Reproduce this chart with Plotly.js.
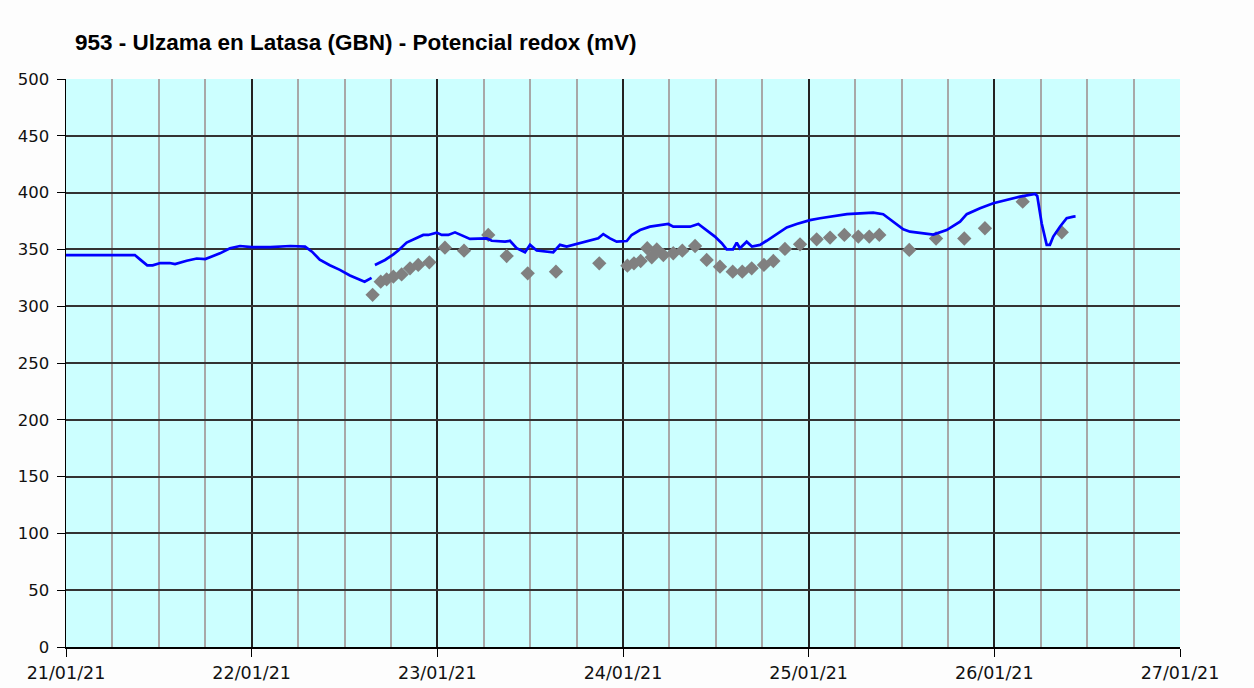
<!DOCTYPE html>
<html>
<head>
<meta charset="utf-8">
<script src="https://cdn.plot.ly/plotly-3.0.1.min.js"></script>
<style>html,body{margin:0;padding:0;background:#fdfdfd;}#chart{width:1254px;height:688px;}</style>
</head>
<body>
<div id="chart"></div>
<script>
// Continuous redox sensor (blue line); null = gap in the record
const sensorTimes = [
 "2021-01-21 00:00","2021-01-21 08:54","2021-01-21 09:36","2021-01-21 10:30","2021-01-21 11:12","2021-01-21 12:12",
 "2021-01-21 13:24","2021-01-21 14:06","2021-01-21 15:36","2021-01-21 16:54","2021-01-21 18:00","2021-01-21 19:00",
 "2021-01-21 19:54","2021-01-21 21:12","2021-01-21 22:30","2021-01-22 00:00","2021-01-22 02:24","2021-01-22 05:00",
 "2021-01-22 06:54","2021-01-22 07:48","2021-01-22 08:48","2021-01-22 10:06","2021-01-22 11:24","2021-01-22 12:42",
 "2021-01-22 13:24","2021-01-22 14:36","2021-01-22 15:30","2021-01-22 15:45",
 "2021-01-22 15:56","2021-01-22 17:14","2021-01-22 18:19","2021-01-22 18:57","2021-01-22 20:02","2021-01-22 21:07",
 "2021-01-22 22:11","2021-01-22 22:50","2021-01-22 23:55","2021-01-23 00:34","2021-01-23 01:25","2021-01-23 02:17",
 "2021-01-23 03:21","2021-01-23 04:13","2021-01-23 06:23","2021-01-23 07:02","2021-01-23 08:45","2021-01-23 09:23",
 "2021-01-23 10:15","2021-01-23 11:20","2021-01-23 11:59","2021-01-23 12:51","2021-01-23 14:59","2021-01-23 15:51",
 "2021-01-23 16:43","2021-01-23 18:26","2021-01-23 20:10","2021-01-23 20:48","2021-01-23 21:27","2021-01-23 22:19",
 "2021-01-23 23:11","2021-01-24 00:29","2021-01-24 01:07","2021-01-24 02:12","2021-01-24 03:29","2021-01-24 04:47",
 "2021-01-24 05:51","2021-01-24 06:30","2021-01-24 08:40","2021-01-24 09:44","2021-01-24 10:49","2021-01-24 11:53",
 "2021-01-24 12:46","2021-01-24 13:24","2021-01-24 14:13","2021-01-24 14:42","2021-01-24 15:07","2021-01-24 15:59",
 "2021-01-24 16:40","2021-01-24 17:43","2021-01-24 18:34","2021-01-24 19:52","2021-01-24 21:10","2021-01-24 22:27",
 "2021-01-25 00:10","2021-01-25 01:28","2021-01-25 04:57","2021-01-25 06:38","2021-01-25 08:21","2021-01-25 09:38",
 "2021-01-25 10:56","2021-01-25 12:14","2021-01-25 13:06","2021-01-25 14:49","2021-01-25 16:07","2021-01-25 17:50",
 "2021-01-25 19:34","2021-01-25 20:26","2021-01-25 22:09","2021-01-25 23:52","2021-01-26 01:36","2021-01-26 03:19",
 "2021-01-26 05:16","2021-01-26 05:33","2021-01-26 06:07","2021-01-26 06:46","2021-01-26 07:11","2021-01-26 07:37",
 "2021-01-26 08:29","2021-01-26 09:21","2021-01-26 10:13","2021-01-26 10:30"
];
const sensorValues = [
 345,345,341,336,336,338,
 338,337,340,342,341.5,344,
 346.5,351,353,352,352,353,
 352.5,348,341,336,332,327,
 325,321.5,325,null,
 336.3,340.7,345.6,349,356,359.7,
 362.7,362.7,364.8,362.7,362.7,365,
 361.8,359.2,359.7,357.6,356.8,357.6,
 351,347.5,354,349,347.5,354,
 352.4,355.4,358.3,359.7,363.5,359.7,
 356.8,357.4,362.7,367,370,371.5,
 372.4,370,370,372.4,367,361.3,
 355.4,350.1,350,356,351,356.8,
 352.5,354,357.6,363.5,369.4,372.4,
 375.8,377.4,381,381.7,382.3,381,
 374.4,367.7,365.6,364,363.1,367,
 374.4,381,386.3,390.6,393.5,396.4,
 398.8,397,373,354,354,361.3,
 370,377.4,378.8,379
];
// Manual samples (grey diamonds)
const sampleTimes = [
 "2021-01-22 15:38","2021-01-22 16:41","2021-01-22 17:27","2021-01-22 18:19","2021-01-22 19:23","2021-01-22 20:28",
 "2021-01-22 21:32","2021-01-22 22:58","2021-01-23 00:59","2021-01-23 03:27","2021-01-23 06:35","2021-01-23 08:58",
 "2021-01-23 11:41","2021-01-23 15:20","2021-01-23 20:56","2021-01-24 00:34","2021-01-24 01:25","2021-01-24 02:17",
 "2021-01-24 03:08","2021-01-24 03:43","2021-01-24 04:22","2021-01-24 05:13","2021-01-24 06:30","2021-01-24 07:40",
 "2021-01-24 09:19","2021-01-24 10:49","2021-01-24 12:32","2021-01-24 14:11","2021-01-24 15:25","2021-01-24 16:38",
 "2021-01-24 18:13","2021-01-24 19:26","2021-01-24 20:56","2021-01-24 22:53","2021-01-25 01:02","2021-01-25 02:46",
 "2021-01-25 04:37","2021-01-25 06:25","2021-01-25 07:50","2021-01-25 09:08","2021-01-25 13:00","2021-01-25 16:28",
 "2021-01-25 20:07","2021-01-25 22:47","2021-01-26 03:40","2021-01-26 08:43"
];
const sampleValues = [
 310,321.6,323.7,326,328,333.3,
 336.3,338.6,351.5,348.9,362.7,344.2,
 328.9,330.4,337.7,335.7,337.7,339.8,
 351,343,350,345,346.6,348.9,
 353,340.7,334.8,330.4,330.4,333.3,
 336.3,339.8,350.4,354.5,358.9,360.4,
 362.7,361.3,361.3,362.7,349.5,359.6,
 359.6,368.6,392,365
];
const chartTitle = "953 - Ulzama en Latasa (GBN) - Potencial redox (mV)";

const traces = [
 {x: sampleTimes, y: sampleValues, type: "scatter", mode: "markers",
  marker: {symbol: "diamond", size: 11, color: "#808080"}, hoverinfo: "x+y"},
 {x: sensorTimes, y: sensorValues, type: "scatter", mode: "lines",
  line: {color: "#0000ff", width: 2.7}, connectgaps: false, hoverinfo: "x+y"}
];
const layout = {
 width: 1254, height: 688,
 margin: {l: 66, r: 74, t: 79, b: 41},
 paper_bgcolor: "#fdfdfd", plot_bgcolor: "#ccffff",
 showlegend: false,
 title: {text: "<b>" + chartTitle + "</b>", x: 75/1254, xanchor: "left", y: 1 - 42/688, yanchor: "middle",
  font: {family: "Liberation Sans, Arial, sans-serif", size: 22.5, color: "#000"}},
 xaxis: {type: "date", range: ["2021-01-21 00:00", "2021-01-27 00:00"],
  tickmode: "linear", tick0: "2021-01-21", dtick: 86400000, tickformat: "%d/%m/%y",
  ticks: "outside", ticklen: 8, tickcolor: "#000", ticklabelstandoff: 1,
  showgrid: true, gridcolor: "#222", gridwidth: 2,
  minor: {dtick: 21600000, tick0: "2021-01-21", showgrid: true, gridcolor: "#a8a8a8", gridwidth: 2, ticks: ""},
  showline: true, linecolor: "#000", linewidth: 1.5, zeroline: false,
  tickfont: {family: "DejaVu Sans, Verdana, sans-serif", size: 17.5, color: "#111"}},
 yaxis: {range: [0, 500], tickmode: "linear", tick0: 0, dtick: 50,
  ticks: "outside", ticklen: 8, tickcolor: "#000", ticklabelstandoff: 4,
  showgrid: true, gridcolor: "#333", gridwidth: 2,
  showline: true, linecolor: "#000", linewidth: 1.5, zeroline: false,
  tickfont: {family: "DejaVu Sans, Verdana, sans-serif", size: 16.5, color: "#111"}}
};
Plotly.newPlot("chart", traces, layout, {displayModeBar: false, staticPlot: true});
</script>
</body>
</html>
